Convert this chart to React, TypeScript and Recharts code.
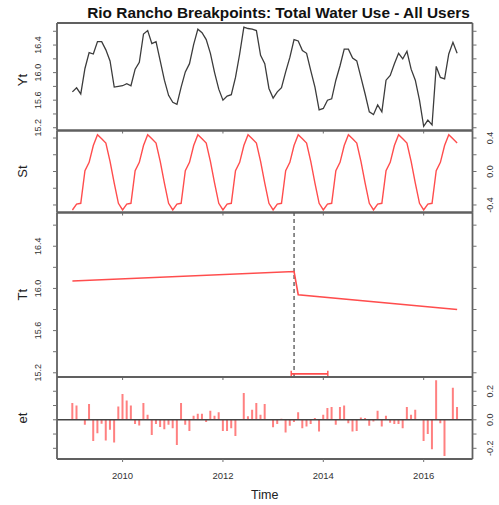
import React from "react";
import { LineChart, Line, XAxis, YAxis, ComposedChart, Bar, ReferenceLine } from "recharts";

const W = 499;
const H = 505;
const FONT = "'Liberation Sans', Arial, sans-serif";

// monthly series, Jan 2009 .. Sep 2016
const START_YEAR = 2009;
const X_DOMAIN: [number, number] = [2008.693, 2016.973];
const YEAR_TICKS = [2010, 2012, 2014, 2016];

const ytValues = [
  15.72, 15.78, 15.69, 16.06, 16.29, 16.27, 16.45, 16.45, 16.33, 16.17, 15.79, 15.8,
  15.81, 15.84, 15.81, 16.05, 16.15, 16.56, 16.61, 16.42, 16.45, 16.17, 15.89, 15.67,
  15.57, 15.54, 15.79, 16.01, 16.13, 16.41, 16.63, 16.58, 16.48, 16.28, 16.0, 15.76,
  15.6, 15.66, 15.68, 15.93, 16.27, 16.66, 16.64, 16.63, 16.61, 16.25, 16.13, 15.77,
  15.63, 15.72, 15.78, 16.01, 16.22, 16.48, 16.46, 16.32, 16.28, 16.03, 15.79, 15.46,
  15.48, 15.6, 15.62, 15.89, 16.1, 16.34, 16.34, 16.21, 16.17, 15.93, 15.69, 15.43,
  15.39, 15.53, 15.43, 15.89, 15.96, 16.13, 16.28, 16.2, 16.31, 16.05, 15.89, 15.6,
  15.22, 15.31, 15.24, 16.09, 15.93, 15.91, 16.27, 16.44, 16.28,
];

// seasonal component, Jan..Dec
const seasonal = [-0.46, -0.39, -0.38, 0.01, 0.11, 0.31, 0.44, 0.39, 0.34, 0.12, -0.14, -0.38];

const etValues = [
  0.118, 0.1, 0, -0.035, 0.11, -0.148, -0.094, -0.028, -0.146, -0.07, -0.16, 0.094,
  0.18, 0.136, 0.1, -0.03, -0.04, 0.118, 0.035, -0.106, -0.03, -0.05, -0.066, -0.035,
  -0.06, -0.176, 0.118, -0.035, -0.078, 0.028, 0.042, 0.042, -0.016, 0.064, 0.028, 0.052,
  -0.078, -0.078, -0.06, -0.113, 0, 0.188, 0.024, 0.07, 0.118, 0.035, 0.11, 0,
  -0.052, -0.03, 0.007, -0.09, -0.042, -0.016, 0.052, -0.06, -0.047, -0.03, 0.012, -0.082,
  0.035, 0.082, 0.09, -0.035, 0.09, 0.1, -0.024, -0.082, -0.078, 0.016, 0.012, -0.042,
  -0.012, 0.064, -0.047, 0.028, -0.02, -0.03, -0.03, -0.06, 0.09, 0.035, 0.07, 0,
  -0.148, -0.1, -0.207, 0.278, -0.024, -0.254, 0.005, 0.224, 0.09,
];

// piecewise trend: segment ends around the breakpoint
const trendTimes = [2009, 2013.417, 2013.5, 2016.667];
const trendValues = [16.07, 16.16, 15.94, 15.8];
const breakTime = 2013.417;
const ciRange = [2013.36, 2014.09];

const monthTime = (i: number) => START_YEAR + i / 12;
const ytData = ytValues.map((v, i) => ({ t: monthTime(i), v }));
const stData = ytValues.map((_, i) => ({ t: monthTime(i), v: seasonal[i % 12] }));
const etData = etValues.map((v, i) => ({ t: monthTime(i), v }));
const ttData = trendTimes.map((t, i) => ({ t, v: trendValues[i] }));

const PLOT_LEFT = 57;
const PLOT_RIGHT = 472.5;
const AX = 1; // axis thickness reserved outside the plot box
const BORDER = { stroke: "#606060", strokeWidth: 1.8 };
const TICK = { stroke: "#707070", strokeWidth: 1 };
const RED = "#ff4d4d";

const blank = () => <g />;

const rotLabel = (cx: number, show: number[]) => (props: any) => {
  const { y, payload } = props;
  const v = Number(payload.value);
  if (!show.some((s) => Math.abs(s - v) < 1e-6)) return <g />;
  return (
    <text
      x={cx}
      y={y}
      transform={`rotate(-90 ${cx} ${y})`}
      textAnchor="middle"
      dominantBaseline="central"
      fontSize={9}
      fontFamily={FONT}
      fill="#333"
    >
      {v.toFixed(1)}
    </text>
  );
};

const yearLabel = (props: any) => (
  <text x={props.x} y={478.5} textAnchor="middle" fontSize={9.5} fontFamily={FONT} fill="#333">
    {props.payload.value}
  </text>
);

function margins(top: number, bottom: number) {
  return {
    top: top - AX,
    bottom: H - bottom - AX,
    left: PLOT_LEFT - AX,
    right: W - PLOT_RIGHT - AX,
  };
}

function frame(
  yDomain: [number, number],
  yTicks: number[],
  labels: number[],
  side: "left" | "right",
  showYears: boolean
) {
  return [
    <XAxis
      key="xb"
      xAxisId="b"
      dataKey="t"
      type="number"
      domain={X_DOMAIN}
      allowDataOverflow
      ticks={YEAR_TICKS}
      interval={0}
      height={AX}
      tickSize={3}
      axisLine={BORDER}
      tickLine={TICK}
      tick={showYears ? yearLabel : blank}
    />,
    <XAxis
      key="xt"
      xAxisId="t"
      orientation="top"
      dataKey="t"
      type="number"
      domain={X_DOMAIN}
      allowDataOverflow
      ticks={YEAR_TICKS}
      interval={0}
      height={AX}
      tickSize={0}
      axisLine={BORDER}
      tickLine={false}
      tick={blank}
    />,
    <YAxis
      key="yl"
      yAxisId="l"
      type="number"
      domain={yDomain}
      allowDataOverflow
      ticks={yTicks}
      interval={0}
      width={AX}
      tickSize={4}
      axisLine={BORDER}
      tickLine={TICK}
      tick={side === "left" ? rotLabel(38, labels) : blank}
    />,
    <YAxis
      key="yr"
      yAxisId="r"
      orientation="right"
      type="number"
      domain={yDomain}
      allowDataOverflow
      ticks={yTicks}
      interval={0}
      width={AX}
      tickSize={4}
      axisLine={BORDER}
      tickLine={TICK}
      tick={side === "right" ? rotLabel(490, labels) : blank}
    />,
  ];
}

const LEVEL_DOMAIN: [number, number] = [15.16, 16.72];
const LEVEL_TICKS = [15.2, 15.4, 15.6, 15.8, 16.0, 16.2, 16.4, 16.6];
const LEVEL_LABELS = [15.2, 15.6, 16.0, 16.4];

const layer: React.CSSProperties = { position: "absolute", top: 0, left: 0 };

export default function App() {
  return (
    <div style={{ position: "absolute", top: 0, left: 0, width: W, height: H, background: "#fff" }}>
      <div style={layer}>
        <LineChart width={W} height={H} data={ytData} margin={margins(23, 130.5)}>
          {frame(LEVEL_DOMAIN, LEVEL_TICKS, LEVEL_LABELS, "left", false)}
          <Line
            xAxisId="b"
            yAxisId="l"
            dataKey="v"
            dot={false}
            stroke="#3c3c3c"
            strokeWidth={1.3}
            isAnimationActive={false}
          />
        </LineChart>
      </div>
      <div style={layer}>
        <LineChart width={W} height={H} data={stData} margin={margins(130.5, 212.5)}>
          {frame([-0.49, 0.49], [-0.4, -0.2, 0, 0.2, 0.4], [-0.4, 0, 0.4], "right", false)}
          <Line
            xAxisId="b"
            yAxisId="l"
            dataKey="v"
            dot={false}
            stroke={RED}
            strokeWidth={1.4}
            isAnimationActive={false}
          />
        </LineChart>
      </div>
      <div style={layer}>
        <LineChart width={W} height={H} data={ttData} margin={margins(212.5, 377)}>
          {frame(LEVEL_DOMAIN, LEVEL_TICKS, LEVEL_LABELS, "left", false)}
          <ReferenceLine
            xAxisId="b"
            yAxisId="l"
            x={breakTime}
            stroke="#444"
            strokeWidth={1.2}
            strokeDasharray="4 3"
          />
          <Line
            xAxisId="b"
            yAxisId="l"
            dataKey="v"
            dot={false}
            stroke={RED}
            strokeWidth={1.6}
            isAnimationActive={false}
          />
          <ReferenceLine
            xAxisId="b"
            yAxisId="l"
            segment={[
              { x: ciRange[0], y: 15.19 },
              { x: ciRange[1], y: 15.19 },
            ]}
            stroke={RED}
            strokeWidth={1.8}
          />
          <ReferenceLine
            xAxisId="b"
            yAxisId="l"
            segment={[
              { x: ciRange[0], y: 15.16 },
              { x: ciRange[0], y: 15.22 },
            ]}
            stroke={RED}
            strokeWidth={1.4}
          />
          <ReferenceLine
            xAxisId="b"
            yAxisId="l"
            segment={[
              { x: ciRange[1], y: 15.16 },
              { x: ciRange[1], y: 15.22 },
            ]}
            stroke={RED}
            strokeWidth={1.4}
          />
        </LineChart>
      </div>
      <div style={layer}>
        <ComposedChart width={W} height={H} data={etData} margin={margins(377, 459)}>
          {frame([-0.275, 0.3], [-0.2, -0.1, 0, 0.1, 0.2], [-0.2, 0, 0.2], "right", true)}
          <Bar
            xAxisId="b"
            yAxisId="l"
            dataKey="v"
            fill="#ff8080"
            barSize={2}
            isAnimationActive={false}
          />
          <ReferenceLine xAxisId="b" yAxisId="l" y={0} stroke="#444" strokeWidth={1.6} />
        </ComposedChart>
      </div>
      <svg width={W} height={H} style={{ ...layer, pointerEvents: "none" }}>
        <text
          x={278.5}
          y={18}
          textAnchor="middle"
          fontSize={15.4}
          fontWeight="bold"
          fontFamily={FONT}
          fill="#111"
        >
          Rio Rancho Breakpoints: Total Water Use - All Users
        </text>
        {[
          ["Yt", 80],
          ["St", 171.5],
          ["Tt", 294.75],
          ["et", 418],
        ].map(([label, cy]) => (
          <text
            key={label as string}
            x={22}
            y={cy as number}
            transform={`rotate(-90 22 ${cy})`}
            textAnchor="middle"
            dominantBaseline="central"
            fontSize={13}
            fontFamily={FONT}
            fill="#222"
          >
            {label}
          </text>
        ))}
        <text x={264.75} y={498.5} textAnchor="middle" fontSize={12.5} fontFamily={FONT} fill="#222">
          Time
        </text>
      </svg>
    </div>
  );
}
